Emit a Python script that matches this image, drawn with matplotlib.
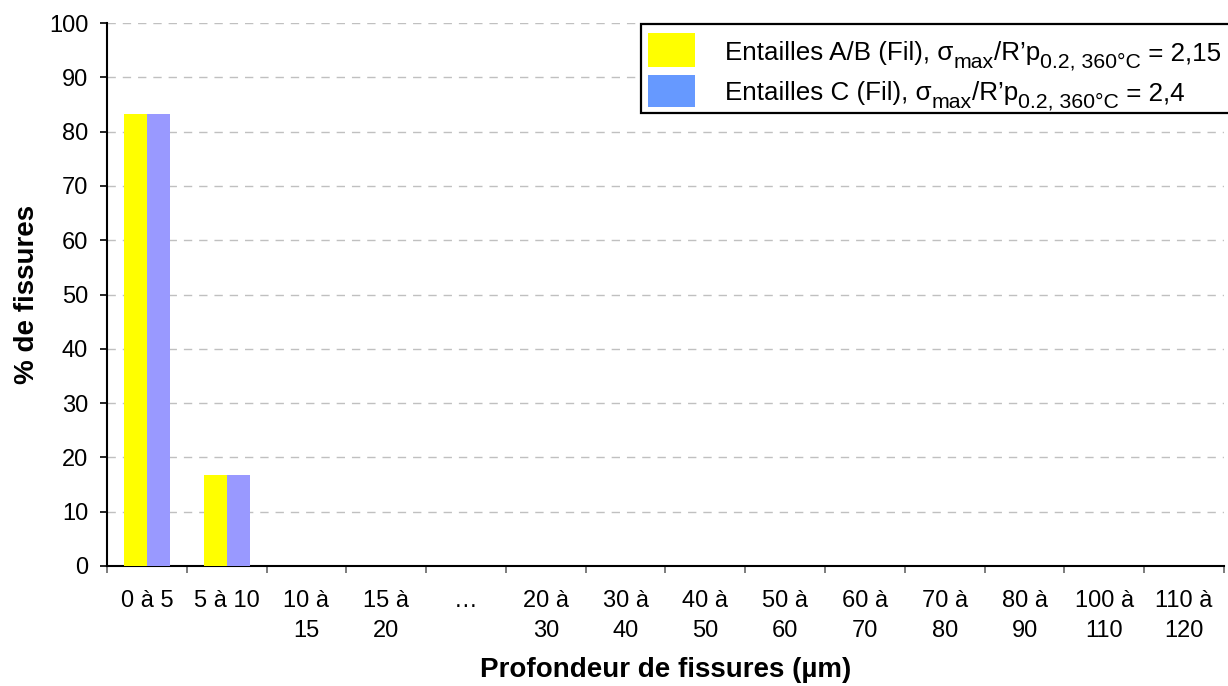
import matplotlib
matplotlib.use("Agg")
import matplotlib.pyplot as plt
from matplotlib.patches import Rectangle
import numpy as np

plt.rcParams['font.family'] = ['Liberation Sans', 'DejaVu Sans']

categories = ["0 à 5", "5 à 10", "10 à\n15", "15 à\n20", "…", "20 à\n30", "30 à\n40",
              "40 à\n50", "50 à\n60", "60 à\n70", "70 à\n80", "80 à\n90", "100 à\n110", "110 à\n120"]
serie_ab = [83.33, 16.67, 0, 0, 0, 0, 0, 0, 0, 0, 0, 0, 0, 0]
serie_c = [83.33, 16.67, 0, 0, 0, 0, 0, 0, 0, 0, 0, 0, 0, 0]
# legend labels : (texte, indice) pieces
label_ab = [("Entailles A/B (Fil), σ", False), ("max", True), ("/R’p", False),
            ("0.2, 360°C", True), (" = 2,15", False)]
label_c = [("Entailles C (Fil), σ", False), ("max", True), ("/R’p", False),
           ("0.2, 360°C", True), (" = 2,4", False)]
color_ab = "#FFFF00"
color_c = "#9999FF"
color_c_leg = "#6699FF"

W, H = 1228, 686
fig = plt.figure(figsize=(W / 100, H / 100), dpi=100)
ax = fig.add_axes([107/W, 120/H, (1224-107)/W, (566-23)/H])

x = np.arange(len(categories))
w = 0.2875
ax.bar(x - w/2, serie_ab, w, color=color_ab, zorder=3)
ax.bar(x + w/2, serie_c, w, color=color_c, zorder=3)

ax.set_xlim(-0.5, len(categories) - 0.5)
ax.set_ylim(0, 100)
ax.set_yticks(np.arange(0, 101, 10))
ax.set_xticks(np.arange(len(categories) + 1) - 0.5)
ax.set_xticklabels([])
ax.set_xticks(x, categories, minor=True, linespacing=1.5)
ax.tick_params(axis='x', which='major', direction='out', length=5, width=1.2, color='#666666')
ax.tick_params(axis='x', which='minor', length=0, pad=17, labelsize=17)
ax.tick_params(axis='y', direction='out', length=5, width=1.2, pad=8.5, labelsize=17)

for v in range(10, 101, 10):
    ax.axhline(v, color='#C0C0C0', linestyle=(0, (6, 5)), linewidth=1, zorder=1)

for s in ['top', 'right']:
    ax.spines[s].set_visible(False)
ax.spines['left'].set_linewidth(1.5)
ax.spines['bottom'].set_linewidth(1.5)

ax.set_xlabel("Profondeur de fissures (µm)", fontsize=20, fontweight='bold', va='baseline')
ax.xaxis.set_label_coords(0.5, (566 - 677) / 543)
ax.set_ylabel("% de fissures", fontsize=20, fontweight='bold', va='baseline')
ax.yaxis.set_label_coords((34 - 107) / 1117, 0.5)

# legende faite a la main (indices plus grands que mathtext)
def px(xp, yp):
    return xp / W, 1 - yp / H

renderer = fig.canvas.get_renderer()

def write_row(pieces, x0, base):
    xc = x0
    for txt, sub in pieces:
        size = 15.3 if sub else 18.7
        yb = base + (7.5 if sub else 0)
        t = fig.text(*px(xc, yb), txt, fontsize=size, va='baseline', ha='left')
        xc = t.get_window_extent(renderer).x1

fig.patches.append(Rectangle(px(641, 113), 620 / W, 89 / H, transform=fig.transFigure,
                             facecolor='white', edgecolor='black', linewidth=1.6, clip_on=False))
fig.patches.append(Rectangle(px(648, 67), 47 / W, 34 / H, transform=fig.transFigure,
                             facecolor=color_ab, edgecolor='none'))
fig.patches.append(Rectangle(px(648, 107), 47 / W, 32 / H, transform=fig.transFigure,
                             facecolor=color_c_leg, edgecolor='none'))
write_row(label_ab, 725, 60)
write_row(label_c, 725, 100)

fig.savefig("out.png", dpi=100)
